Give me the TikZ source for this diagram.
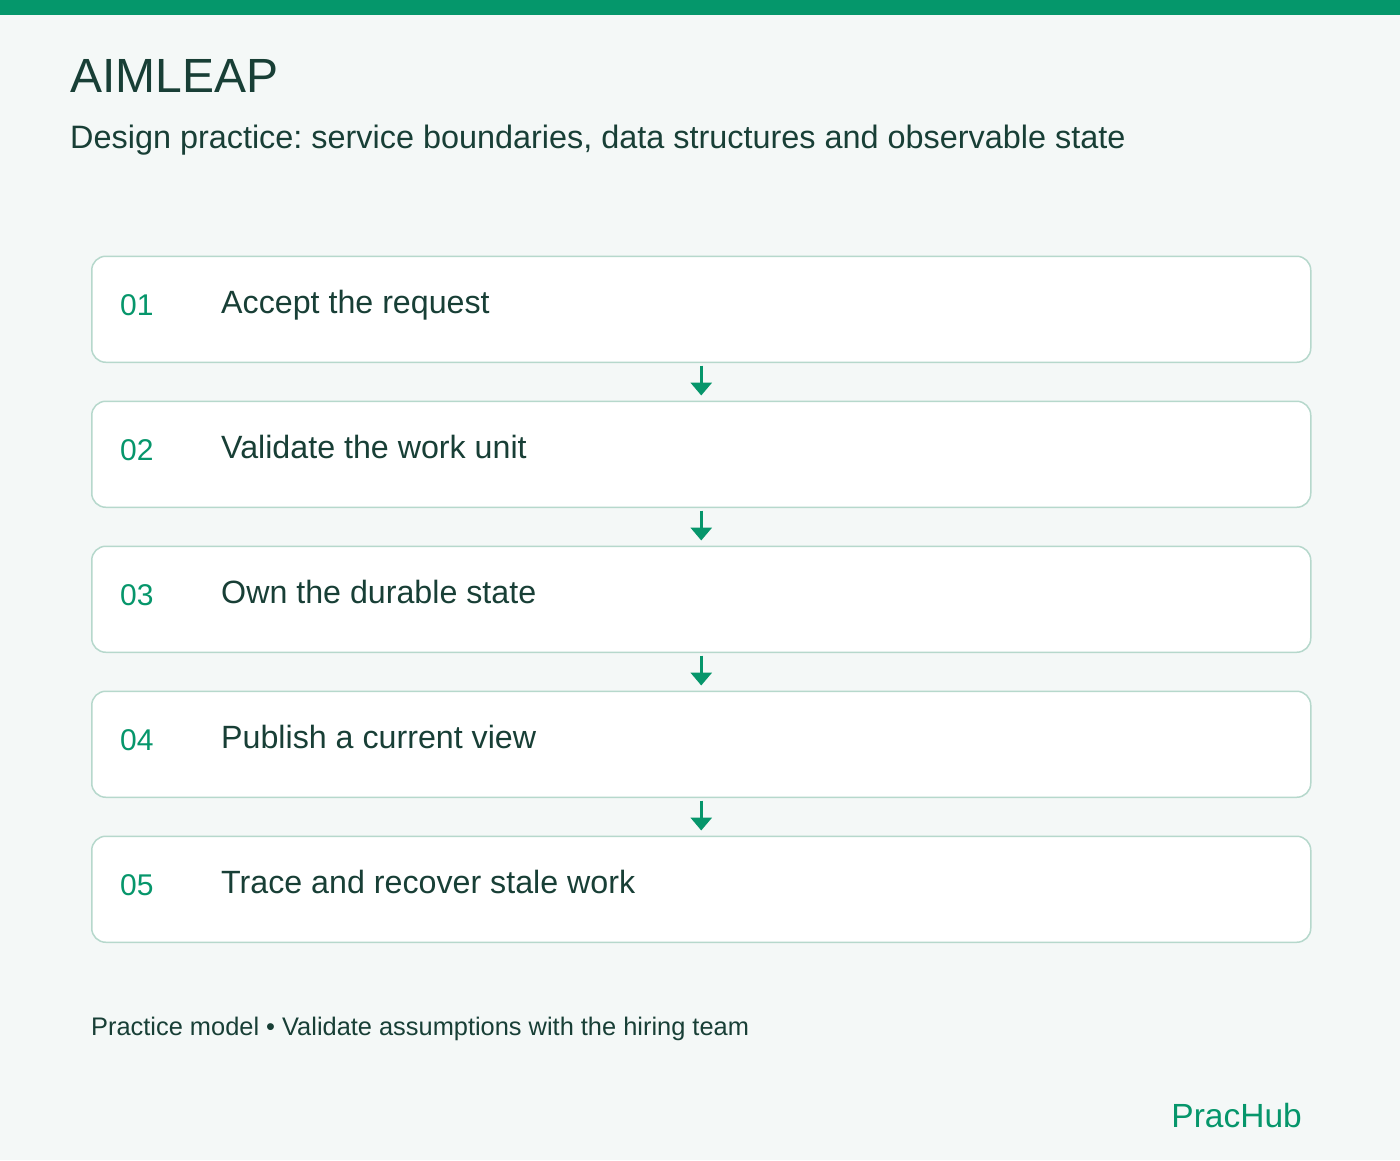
\documentclass[tikz,border=0pt]{standalone}
\usepackage{fontspec}
\setmainfont{Liberation Sans}
\usetikzlibrary{arrows.meta}
\definecolor{bg}{HTML}{F4F8F7}
\definecolor{topbar}{HTML}{05976B}
\definecolor{ink}{HTML}{183F36}
\definecolor{accent}{HTML}{06966B}
\definecolor{edge}{HTML}{B6D8CC}
\tikzset{
  txt/.style={inner sep=0pt, anchor=base west, text=ink},
  stepbox/.style={draw=edge, line width=1.5pt, fill=white, rounded corners=14pt,
    minimum width=1219pt, minimum height=106pt, inner sep=0pt, anchor=north west},
  num/.style={inner sep=0pt, anchor=base west, text=accent, font=\fontsize{30}{36}\selectfont},
  lbl/.style={inner sep=0pt, anchor=base west, text=ink, font=\fontsize{32.2}{38}\selectfont},
  flow/.style={draw=accent, line width=3.5pt, -{Triangle[width=21pt,length=13pt]},
    shorten <=2.5pt, shorten >=5pt}
}
\frenchspacing
\begin{document}
\begin{tikzpicture}[x=1pt,y=-1pt]
\useasboundingbox (0,0) rectangle (1400,1160);
\fill[bg] (0,0) rectangle (1400,1160);
\fill[topbar] (0,0) rectangle (1400,14.5);
\node[txt, font=\fontsize{48}{56}\selectfont] (title) at (70,92) {AIMLEAP};
\node[txt, font=\fontsize{32.4}{38}\selectfont] (subtitle) at (70,148) {\frenchspacing Design practice: service boundaries, data structures and observable state};
\foreach \i/\n/\t in {0/01/Accept the request,1/02/Validate the work unit,2/03/Own the durable state,3/04/Publish a current view,4/05/Trace and recover stale work}{
  \node[stepbox] (b\i) at (91,255.5+145*\i) {};
  \node[num] (n\i) at (120,315+145*\i) {\n};
  \node[lbl] (l\i) at (221,313+145*\i) {\t};
}
\draw[flow] (b0.south) -- (b1.north);
\draw[flow] (b1.south) -- (b2.north);
\draw[flow] (b2.south) -- (b3.north);
\draw[flow] (b3.south) -- (b4.north);
\node[txt, font=\fontsize{25.4}{30}\selectfont] (foot) at (91,1035) {Practice model • Validate assumptions with the hiring team};
\node[inner sep=0pt, anchor=base east, text=accent, font=\fontsize{33.5}{40}\selectfont] (brand) at (1302,1127) {PracHub};
\end{tikzpicture}
\end{document}
